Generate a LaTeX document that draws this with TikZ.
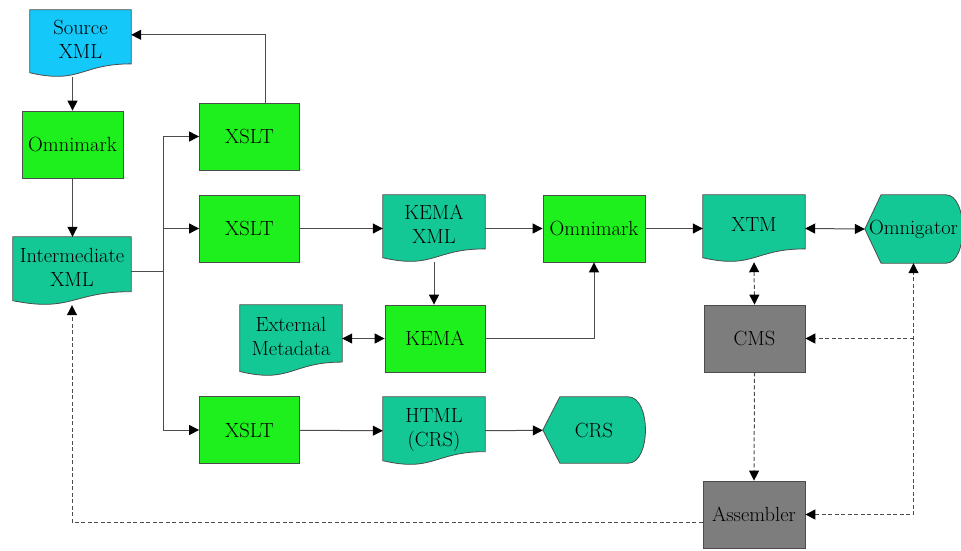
\documentclass[tikz,border=0pt]{standalone}
\usetikzlibrary{arrows.meta,calc}

\definecolor{procgreen}{RGB}{30,240,30}
\definecolor{docteal}{RGB}{20,200,150}
\definecolor{srccyan}{RGB}{20,200,250}
\definecolor{cmsgray}{RGB}{125,125,125}

\pgfdeclarelayer{back}
\pgfsetlayers{back,main}

\tikzset{
  base/.style={minimum width=101pt, minimum height=67pt, inner sep=0pt,
    align=center, font=\fontsize{20.5}{24}\selectfont},
  proc/.style={base, draw=black!70, line width=0.8pt, fill=procgreen},
  store/.style={base, draw=black!70, line width=0.8pt, fill=cmsgray},
  % document shape with a wavy bottom, drawn behind the node
  docu/.style={base, text depth=8pt, append after command={
    \pgfextra{\let\docnode\tikzlastnode
      \begin{pgfonlayer}{back}
        \draw[draw=black!70, line width=0.8pt, fill=#1]
          (\docnode.north west) -- (\docnode.north east)
          -- ($(\docnode.north east)!0.802!(\docnode.south east)$)
          .. controls ($(\docnode.north)!0.802!(\docnode.south)$)
          and ($(\docnode.north)!1.107!(\docnode.south)$)
          .. ($(\docnode.north west)!0.934!(\docnode.south west)$) -- cycle;
      \end{pgfonlayer}}}},
  % display shape: pointed left, rounded right
  disp/.style={base, append after command={
    \pgfextra{\let\dispnode\tikzlastnode
      \begin{pgfonlayer}{back}
        \draw[draw=black!70, line width=0.8pt, fill=docteal]
          (\dispnode.west)
          -- ($(\dispnode.north west)!0.1667!(\dispnode.north east)$)
          -- ($(\dispnode.north west)!0.8333!(\dispnode.north east)$)
          .. controls ($(\dispnode.north east)+(6,0)$)
          and ($(\dispnode.south east)+(6,0)$)
          .. ($(\dispnode.south west)!0.8333!(\dispnode.south east)$)
          -- ($(\dispnode.south west)!0.1667!(\dispnode.south east)$) -- cycle;
      \end{pgfonlayer}}}},
  link/.style={draw=black!70, line width=1pt},
  arr/.style={link, -{Triangle[length=10pt,width=10pt,color=black]}},
  arrboth/.style={link, {Triangle[length=10pt,width=10pt,color=black]}-{Triangle[length=10pt,width=10pt,color=black]}},
  darr/.style={arr, dash pattern=on 4pt off 2.5pt},
  darrboth/.style={arrboth, dash pattern=on 4pt off 2.5pt}
}

\begin{document}
\begin{tikzpicture}[x=1pt,y=-1pt]
\useasboundingbox (0,0) rectangle (961,550);

% left column
\node[docu=srccyan] (src) at (80.5,43.5) {Source\\XML};
\node[proc] (omniA) at (72.5,144.5) {Omnimark};
\node[docu=docteal, minimum width=118pt, minimum height=68pt] (inter) at (72,271) {Intermediate\\XML};

% XSLT column
\node[proc, minimum width=100pt] (xsltA) at (249.5,136.5) {XSLT};
\node[proc, minimum width=100pt] (xsltB) at (249.5,228.5) {XSLT};
\node[proc, minimum width=100pt] (xsltC) at (249.5,430) {XSLT};

% middle
\node[docu=docteal, minimum width=102pt] (kemaxml) at (434,228.5) {KEMA\\XML};
\node[proc, minimum width=102pt] (omniB) at (594,228.5) {Omnimark};
\node[docu=docteal, minimum width=102pt, minimum height=71pt] (extmeta) at (291,340.5) {External\\Metadata};
\node[proc, minimum width=100pt] (kema) at (435,338.5) {KEMA};
\node[docu=docteal, minimum width=102pt, minimum height=68pt] (html) at (434,431) {HTML\\(CRS)};
\node[disp, minimum width=102pt, minimum height=66pt] (crs) at (594,430) {CRS};

% right
\node[docu=docteal, minimum width=102pt] (xtm) at (754,228.5) {XTM};
\node[disp, minimum width=97pt, minimum height=68pt] (omnig) at (913.5,229) {Omnigator};
\node[store] (cms) at (754.5,338.5) {CMS};
\node[store, minimum width=102pt] (asm) at (754,514.5) {Assembler};

% solid flow
\draw[arr] (src.south -| omniA.north) -- (omniA.north);
\draw[arr] (omniA.south) -- (omniA.south |- inter.north);
\coordinate (fork) at ($(inter.east)+(32,0)$);
\draw[link] (inter.east) -- (fork);
\draw[arr] (fork) |- (xsltA.west);
\draw[arr] (fork) |- (xsltB.west);
\draw[arr] (fork) |- (xsltC.west);
\draw[arr] ($(xsltA.north)+(16,0)$) |- ($(src.north east)+(0,25)$);
\draw[arr] (xsltB) -- (kemaxml);
\draw[arr] (kemaxml) -- (omniB);
\draw[arr] (kemaxml.south) -- (kemaxml.south |- kema.north);
\draw[arrboth] (kema.west) -- (kema.west -| extmeta.east);
\draw[arr] (kema.east) -| (omniB.south);
\draw[arr] (omniB) -- (xtm);
\draw[arrboth] (xtm.east) -- (omnig.west);
\draw[arr] (xsltC) -- (html);
\draw[arr] (html) -- (crs);

% dashed flow
\draw[darrboth] (xtm.south) -- (cms.north);
\draw[darr] (cms.south) -- (asm.north);
\draw[darrboth] (asm.east) -| (omnig.south);
\draw[darr] (omnig.south |- cms.east) -- (cms.east);
\draw[darr] ($(asm.west)+(0,8)$) -| (inter.south);
\end{tikzpicture}
\end{document}
